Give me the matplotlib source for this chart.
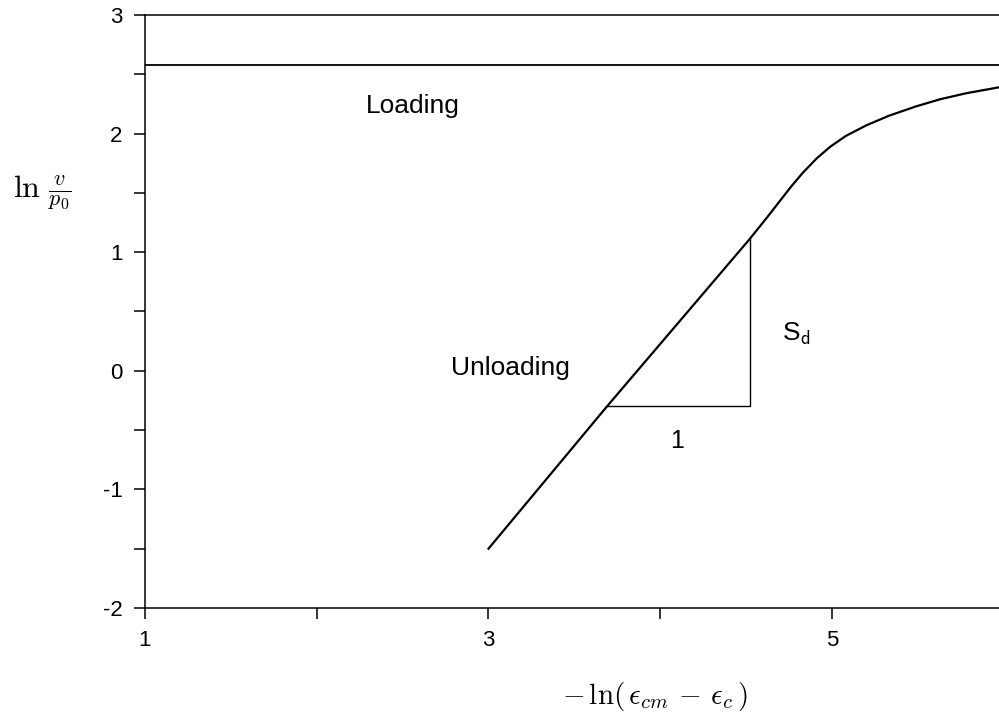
import matplotlib
matplotlib.use('Agg')
import matplotlib.pyplot as plt
from matplotlib.ticker import FixedLocator, FixedFormatter

plt.rcParams['font.family'] = ['Liberation Sans', 'DejaVu Sans']
plt.rcParams['mathtext.fontset'] = 'cm'

# unloading curve in log-log space
x_curve = [3.00, 3.69, 4.52, 4.62, 4.69, 4.76, 4.83, 4.91, 4.99, 5.08, 5.20,
           5.33, 5.49, 5.63, 5.78, 5.97]
y_curve = [-1.50, -0.30, 1.11, 1.29, 1.42, 1.55, 1.67, 1.79, 1.89, 1.98, 2.07,
           2.15, 2.23, 2.29, 2.34, 2.39]

# loading level
y_loading = 2.58

# slope triangle corners
tri_x = [3.69, 4.52, 4.52]
tri_y = [-0.30, -0.30, 1.11]

x_ticks = [1, 2, 3, 4, 5, 6]
x_labels = ['1', '', '3', '', '5', '']
y_ticks = [-2, -1.5, -1, -0.5, 0, 0.5, 1, 1.5, 2, 2.5, 3]
y_labels = ['-2', '', '-1', '', '0', '', '1', '', '2', '', '3']

fig = plt.figure(figsize=(9.99, 7.15), dpi=100)
ax = fig.add_axes([0.1451, 0.1497, 0.8549, 0.8293])
ax.set_xlim(1, 5.972)
ax.set_ylim(-2, 3)

ax.plot(x_curve, y_curve, color='black', lw=1.6, solid_joinstyle='round')
ax.axhline(y_loading, color='black', lw=1.3)
ax.plot(tri_x, tri_y, color='black', lw=1.0)

ax.text(2.56, 2.23, 'Loading', fontsize=19, ha='center', va='center')
ax.text(3.13, 0.02, 'Unloading', fontsize=19, ha='center', va='center')
ax.text(4.79, 0.31, r'S$_{\mathsf{d}}$', fontsize=19, ha='center', va='center')
ax.text(4.10, -0.59, '1', fontsize=18, ha='center', va='center')

ax.spines['right'].set_visible(False)
for s in ('left', 'bottom', 'top'):
    ax.spines[s].set_linewidth(1.1)

ax.xaxis.set_major_locator(FixedLocator(x_ticks))
ax.xaxis.set_major_formatter(FixedFormatter(x_labels))
ax.yaxis.set_major_locator(FixedLocator(y_ticks))
ax.yaxis.set_major_formatter(FixedFormatter(y_labels))
ax.tick_params(direction='out', length=8, width=1.1, labelsize=16, pad=8)

fig.text(0.042, 0.731, r'$\ln\,\frac{v}{p_0}$', fontsize=23, ha='center', va='center')
fig.text(0.656, 0.026, r'$-\,\ln(\,\epsilon_{cm}\,-\,\epsilon_c\,)$', fontsize=21,
         ha='center', va='center')

fig.savefig('out.png', dpi=100, facecolor='white')
